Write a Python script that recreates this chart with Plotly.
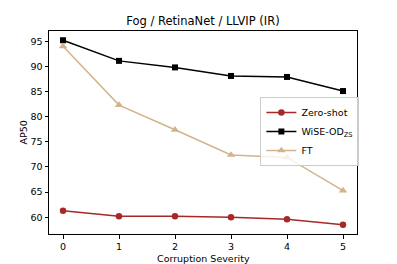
import plotly.graph_objects as go

severity = [0, 1, 2, 3, 4, 5]
zero_shot = [61.3, 60.2, 60.2, 60.0, 59.6, 58.5]
wise_od = [95.2, 91.1, 89.8, 88.1, 87.9, 85.1]
ft = [94.0, 82.3, 77.4, 72.4, 71.9, 65.3]
x_ticks = [0, 1, 2, 3, 4, 5]
y_ticks = [60, 65, 70, 75, 80, 85, 90, 95]

font = "DejaVu Sans"
fig = go.Figure()
fig.add_trace(go.Scatter(x=severity, y=zero_shot, mode="lines+markers", name="Zero-shot",
                         line=dict(color="#a82828", width=1.5),
                         marker=dict(symbol="circle", size=6.5, color="#a82828")))
fig.add_trace(go.Scatter(x=severity, y=wise_od, mode="lines+markers", name="WiSE-OD<sub>ZS</sub>",
                         line=dict(color="black", width=1.5),
                         marker=dict(symbol="square", size=6, color="black")))
fig.add_trace(go.Scatter(x=severity, y=ft, mode="lines+markers", name="FT",
                         line=dict(color="#d2b48c", width=1.5),
                         marker=dict(symbol="triangle-up", size=7.5, color="#d2b48c")))

axis_common = dict(showline=True, linecolor="black", linewidth=1, mirror=True,
                   ticks="outside", ticklen=3.5, tickwidth=1, tickcolor="black",
                   showgrid=False, zeroline=False, automargin=False,
                   tickfont=dict(family=font, size=9.5, color="black"))
fig.update_xaxes(range=[-0.25, 5.25], tickvals=x_ticks, **axis_common)
fig.update_yaxes(range=[56.67, 97.04], tickvals=y_ticks, **axis_common)

fig.add_annotation(text="Corruption Severity", xref="paper", yref="paper", x=0.5, y=0,
                   xanchor="center", yanchor="middle", yshift=-24, showarrow=False,
                   font=dict(family=font, size=9.5, color="black"))
fig.add_annotation(text="AP50", xref="paper", yref="paper", x=0, y=0.5, textangle=-90,
                   xanchor="center", yanchor="middle", xshift=-26, showarrow=False,
                   font=dict(family=font, size=9.5, color="black"))

fig.update_layout(
    width=397, height=264,
    margin=dict(l=49, r=40, t=31, b=30),
    paper_bgcolor="white", plot_bgcolor="white",
    title=dict(text="Fog / RetinaNet / LLVIP (IR)", xref="paper", x=0.5, xanchor="center",
               yref="container", y=0.92, yanchor="middle",
               font=dict(family=font, size=11.5, color="black")),
    legend=dict(x=0.847, y=0.505, xanchor="center", yanchor="middle",
                bgcolor="rgba(255,255,255,0.8)", bordercolor="#cccccc", borderwidth=1,
                font=dict(family=font, size=9.5, color="black"),
                tracegroupgap=0, itemwidth=30),
    showlegend=True,
)
fig.write_html("out.html", config={"displayModeBar": False},
               post_script="document.body.style.margin='0';document.body.style.overflow='hidden';")
